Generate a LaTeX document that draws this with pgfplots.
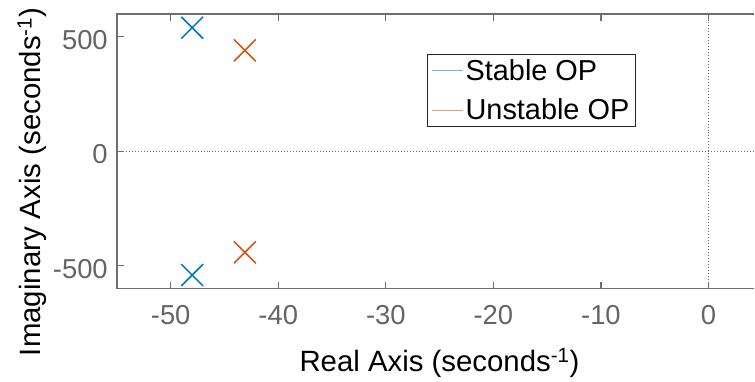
\documentclass[border=0pt]{standalone}
\usepackage{pgfplots}
\pgfplotsset{compat=1.18}
\usepackage{fontspec}
\setmainfont{Liberation Sans}

\definecolor{mblue}{RGB}{0,114,189}
\definecolor{morange}{RGB}{217,83,25}
\definecolor{mblueL}{RGB}{110,176,222}
\definecolor{morangeL}{RGB}{232,156,124}
\definecolor{axgray}{RGB}{110,110,110}
\definecolor{lblgray}{RGB}{100,100,100}

\begin{document}
\begin{tikzpicture}
\begin{axis}[
  scale only axis,
  width=638bp, height=275bp,
  xmin=-55, xmax=4.27,
  ymin=-600, ymax=600,
  xtick={-50,-40,-30,-20,-10,0},
  ytick={-500,0,500},
  xtick pos=both,
  ytick pos=left,
  tick align=inside,
  major tick length=7bp,
  axis line style={draw=none},
  every tick/.style={axgray, line width=1.2pt},
  /pgf/number format/assume math mode=true,
  tick label style={font=\fontsize{27.5}{32}\selectfont, text=lblgray},
  xticklabel style={anchor=base, inner sep=0pt, yshift=-36bp},
  yticklabel style={anchor=east, inner sep=0pt, xshift=-9bp, yshift=-3bp},
  xlabel={Real Axis (seconds\textsuperscript{-1})},
  ylabel={Imaginary Axis (seconds\textsuperscript{-1})},
  every axis x label/.style={at={(axis description cs:0.506,0)}, yshift=-83bp,
    anchor=base, font=\fontsize{29.5}{34}\selectfont, text=black},
  every axis y label/.style={at={(axis description cs:0,0.389)}, xshift=-85bp,
    rotate=90, anchor=center, font=\fontsize{29.5}{34}\selectfont, text=black},
  legend style={at={(0.487,0.8545)}, anchor=north west,
    draw=black!85, line width=1pt, fill=white,
    font=\fontsize{29}{34}\selectfont,
    inner xsep=4bp, inner ysep=3bp,
    row sep=13bp},
  legend image code/.code={\draw[#1] (0bp,0bp) -- (31bp,0bp);},
  legend cell align=left,
  clip=false,
]
% page margins around the plot
\path (rel axis cs:0,0) ++(-117bp,-92bp);
\path (rel axis cs:1,1) ++(0bp,14bp);
% spines: left, bottom and top (the right-hand side is left open)
\draw[axgray, line width=1.2pt] (rel axis cs:1,1) -- (rel axis cs:0,1)
  -- (rel axis cs:0,0) -- (rel axis cs:1,0);
% reference lines through the origin
\draw[axgray, dotted, line width=1pt] (axis cs:-55,0) -- (axis cs:4.27,0);
\draw[axgray, dotted, line width=1pt] (axis cs:0,-600) -- (axis cs:0,600);

% poles at the stable operating point
\addplot[only marks, mark=x, mark size=15.5bp, mblue, line width=1.5pt,
  forget plot] coordinates {(-48.0,540) (-48.0,-540)};
% poles at the unstable operating point
\addplot[only marks, mark=x, mark size=15.5bp, morange, line width=1.5pt,
  forget plot] coordinates {(-43.1,441) (-43.1,-441)};

\addlegendimage{mblueL, line width=0.8pt}
\addlegendentry{Stable OP}
\addlegendimage{morangeL, line width=0.8pt}
\addlegendentry{Unstable OP}
\end{axis}
\end{tikzpicture}
\end{document}
